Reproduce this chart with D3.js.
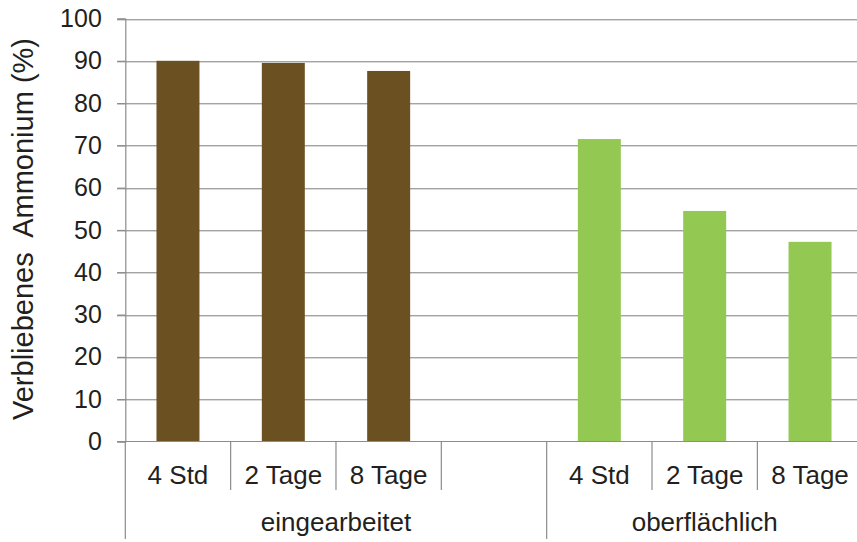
<!DOCTYPE html>
<html>
<head>
<meta charset="utf-8">
<script src="https://cdn.jsdelivr.net/npm/d3@7"></script>
<style>
  html, body { margin: 0; padding: 0; background: #fff; }
  svg { display: block; font-family: "Liberation Sans", Arial, Helvetica, sans-serif; }
</style>
</head>
<body>
<svg id="chart" width="857" height="542"></svg>
<script>
// Treatment durations within each application group
const categories = ["4 Std", "2 Tage", "8 Tage"];
// Application methods (the first group carries one empty slot after its bars)
const groups = ["eingearbeitet", "oberflächlich"];
// Remaining ammonium in percent
const eingearbeitetValues = [90, 89.5, 87.6];
const oberflaechlichValues = [71.5, 54.5, 47.2];
const yTicks = [0, 10, 20, 30, 40, 50, 60, 70, 80, 90, 100];
const yTitle = "Verbliebenes  Ammonium (%)";
const groupColors = ["#6b5121", "#93c852"];

// Slots along the x axis: 3 bars + 1 empty slot for group one, 3 bars for group two
const slots = [
  ...categories.map((c, i) => ({ key: "g0-" + i, group: 0, cat: c, value: eingearbeitetValues[i] })),
  { key: "g0-gap", group: 0, cat: "", value: null },
  ...categories.map((c, i) => ({ key: "g1-" + i, group: 1, cat: c, value: oberflaechlichValues[i] }))
];

const svg = d3.select("#chart");
const plotLeft = 125.3, plotRight = 862.7, plotTop = 18.5, plotBottom = 441.5;
const textColor = "#231f20";
const axisColor = "#8c8c8c";

const x = d3.scaleBand()
  .domain(slots.map(d => d.key))
  .range([plotLeft, plotRight])
  .paddingInner(0.592)
  .paddingOuter(0.296);

const y = d3.scaleLinear().domain([0, 100]).range([plotBottom, plotTop]);

// Horizontal gridlines with a soft shadow line beneath
const grid = svg.append("g");
yTicks.forEach(t => {
  const yy = Math.round(y(t));
  if (t > 0) {
    grid.append("line")
      .attr("x1", 117).attr("x2", 857)
      .attr("y1", yy + 1.5).attr("y2", yy + 1.5)
      .attr("stroke", "#d9d9d9").attr("stroke-width", 1);
    grid.append("line")
      .attr("x1", 117).attr("x2", 857)
      .attr("y1", yy + 0.5).attr("y2", yy + 0.5)
      .attr("stroke", "#a3a3a3").attr("stroke-width", 1.2);
  }
});

// Bars
svg.append("g").selectAll("rect")
  .data(slots.filter(d => d.value !== null))
  .join("rect")
  .attr("x", d => x(d.key))
  .attr("width", x.bandwidth())
  .attr("y", d => y(d.value))
  .attr("height", d => y(0) - y(d.value))
  .attr("fill", d => groupColors[d.group]);

// Y axis
const yAxis = d3.axisLeft(y).tickValues(yTicks).tickSize(8).tickPadding(15.5).tickFormat(d3.format("d"));
const yg = svg.append("g").attr("transform", `translate(${plotLeft},0)`).call(yAxis);
yg.select(".domain").attr("stroke", axisColor).attr("stroke-width", 1.2);
yg.selectAll(".tick line").attr("stroke", axisColor).attr("stroke-width", 1.2);
yg.selectAll(".tick text")
  .attr("fill", textColor)
  .attr("font-size", 25)
  .attr("font-family", "'Liberation Sans', Arial, Helvetica, sans-serif");

// Baseline
svg.append("line")
  .attr("x1", 117).attr("x2", 857)
  .attr("y1", plotBottom).attr("y2", plotBottom)
  .attr("stroke", axisColor).attr("stroke-width", 1.2);

// Category separators below the axis
const step = x.step();
const sepG = svg.append("g").attr("stroke", axisColor).attr("stroke-width", 1.2);
slots.forEach((d, i) => {
  const xx = x(d.key) - x.paddingInner() * step / 2;
  const isGroupStart = i === 0 || slots[i - 1].group !== d.group;
  sepG.append("line")
    .attr("x1", xx).attr("x2", xx)
    .attr("y1", plotBottom).attr("y2", isGroupStart ? 539 : 490);
});

// Category labels
svg.append("g").selectAll("text")
  .data(slots.filter(d => d.cat))
  .join("text")
  .attr("x", d => x(d.key) + x.bandwidth() / 2)
  .attr("y", 484)
  .attr("text-anchor", "middle")
  .attr("font-size", 26)
  .attr("fill", textColor)
  .text(d => d.cat);

// Group labels centred under their slots
groups.forEach((g, gi) => {
  const members = slots.filter(d => d.group === gi);
  const x0 = x(members[0].key) - x.paddingInner() * step / 2;
  const x1 = x0 + members.length * step;
  svg.append("text")
    .attr("x", (x0 + x1) / 2)
    .attr("y", 531)
    .attr("text-anchor", "middle")
    .attr("font-size", 26)
    .attr("fill", textColor)
    .text(g);
});

// Y axis title
svg.append("text")
  .attr("transform", `translate(33,229) rotate(-90)`)
  .attr("text-anchor", "middle")
  .attr("font-size", 29)
  .attr("fill", textColor)
  .style("white-space", "pre")
  .text(yTitle);
</script>
</body>
</html>
